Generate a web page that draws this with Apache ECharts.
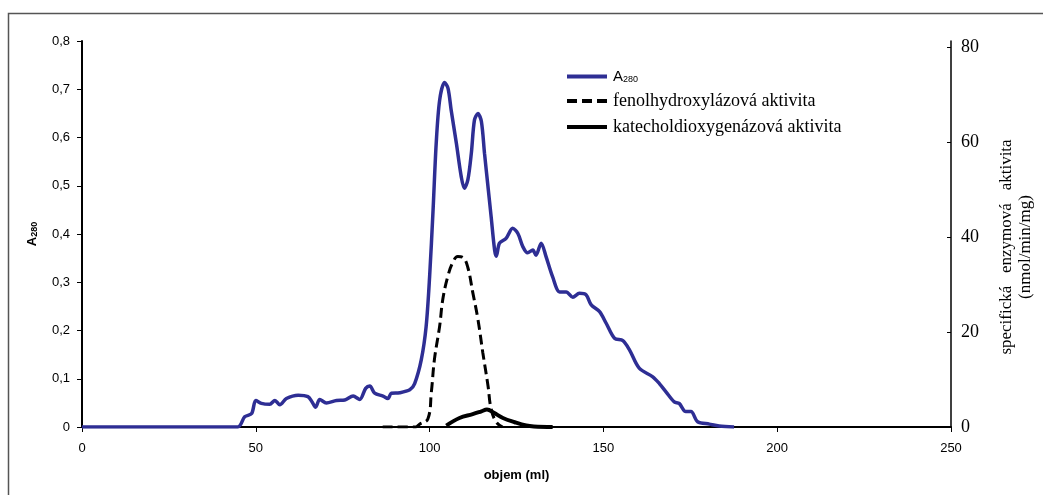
<!DOCTYPE html>
<html>
<head>
<meta charset="utf-8">
<script src="https://cdn.jsdelivr.net/npm/echarts@6/dist/echarts.min.js"></script>
<style>html,body{margin:0;padding:0;background:#fff}#c{width:1043px;height:495px}</style>
</head>
<body>
<div id="c"></div>
<script>
// A280 absorbance trace (x = volume ml, y = A280)
var a280X = [0,44.8,46.8,48.8,50,51.6,54,55.5,56.9,58.8,62.2,65,66.2,67.2,68.4,70.3,73.2,75.6,78,79.9,81.6,82.8,84.2,86.6,88,89,91.4,94.3,95.7,97.6,99,100,101,101.9,102.9,104.3,105.3,106.2,107.7,109.1,110,111,112,112.9,113.9,114.9,115.8,116.8,117.7,118.7,119.2,120.1,122,123.9,125.4,126.8,128.2,129.7,130.6,132.1,133.5,135.4,137.4,139.3,141.2,143.1,145,146.5,148.9,150.8,153.2,155.6,157.5,160.3,164.2,166.1,168,170.4,171.8,173.7,175.2,177.1,180.5,183.3,187.6];
var a280Y = [0,0,0.021,0.028,0.055,0.049,0.047,0.055,0.046,0.059,0.066,0.063,0.052,0.041,0.057,0.050,0.055,0.056,0.064,0.057,0.080,0.085,0.070,0.064,0.059,0.070,0.071,0.077,0.090,0.139,0.208,0.311,0.450,0.588,0.678,0.714,0.702,0.657,0.588,0.519,0.495,0.512,0.567,0.636,0.650,0.633,0.567,0.498,0.436,0.367,0.354,0.381,0.391,0.412,0.401,0.374,0.361,0.367,0.356,0.381,0.353,0.311,0.280,0.280,0.269,0.277,0.274,0.253,0.239,0.215,0.184,0.179,0.160,0.122,0.104,0.090,0.073,0.052,0.049,0.032,0.032,0.011,0.006,0.002,0];
// fenolhydroxylázová aktivita (nmol/min/mg)
var fenolX = [86.5,96,97.1,99.5,100.5,101.4,102.9,103.8,105.3,106.7,108.1,109.6,111,112.4,113.9,115.3,116.8,117.7,119.2,121];
var fenolY = [0,0,0.6,1.7,7.3,14.3,21.3,26.9,31.9,34.7,35.9,35.7,33.6,28.4,22.7,15.7,8.7,3.8,1.0,0];
// katecholdioxygenázová aktivita (nmol/min/mg)
var katX = [104.8,108.6,112.4,114.9,116.5,118.5,121.1,124.5,127.8,130,135.4];
var katY = [0.3,1.9,2.7,3.3,3.7,3.0,1.9,1.0,0.3,0.1,0];
// axis ticks
var xTicks = [0,50,100,150,200,250];
var leftTicks = [0,0.1,0.2,0.3,0.4,0.5,0.6,0.7,0.8];
var rightTicks = [0,20,40,60,80];
var seriesNames = ['A280','fenolhydroxylázová aktivita','katecholdioxygenázová aktivita'];

function zip(xs, ys){ var o=[]; for (var i=0;i<Math.min(xs.length,ys.length);i++) o.push([xs[i],ys[i]]); return o; }

var chart = echarts.init(document.getElementById('c'), null, {renderer:'canvas'});
var serif = '"Liberation Serif","Times New Roman",serif';
var sans = '"Liberation Sans",Arial,sans-serif';
chart.setOption({
  animation: false,
  backgroundColor: '#fff',
  graphic: [{
    type: 'rect', shape: {x: 8.5, y: 13.5, width: 1200, height: 700},
    style: {fill: 'none', stroke: '#555', lineWidth: 1.5}, silent: true, z: -10
  }],
  grid: {left: 82, right: 91, top: 41, bottom: 68, containLabel: false},
  legend: {
    orient: 'vertical', left: 560, top: 64, itemWidth: 40, itemHeight: 14, itemGap: 8,
    data: seriesNames,
    itemStyle: {opacity: 0},
    lineStyle: {width: 4},
    formatter: function(n){ return n === 'A280' ? '{a|A}{s|280}' : n; },
    textStyle: {
      fontFamily: serif, fontSize: 18, color: '#000', padding: [0,0,0,1],
      rich: {
        a: {fontFamily: sans, fontSize: 15, color: '#000'},
        s: {fontFamily: sans, fontSize: 9, color: '#000', verticalAlign: 'bottom', padding: [4,0,0,0]}
      }
    }
  },
  xAxis: {
    type: 'value', min: 0, max: 250, interval: 50,
    name: 'objem (ml)', nameLocation: 'middle', nameGap: 42,
    nameTextStyle: {fontFamily: sans, fontSize: 13, fontWeight: 'bold', color: '#000'},
    axisLine: {show: true, onZero: false, lineStyle: {color: '#000', width: 2}},
    axisTick: {show: true, length: 5, lineStyle: {color: '#000', width: 1}, customValues: xTicks},
    axisLabel: {fontFamily: sans, fontSize: 13, color: '#000', margin: 15, customValues: xTicks},
    splitLine: {show: false}
  },
  yAxis: [{
    type: 'value', min: 0, max: 0.8, interval: 0.1, position: 'left',
    name: '{a|A}{s|280}', nameLocation: 'middle', nameRotate: 90, nameGap: 43,
    nameTextStyle: {rich: {
      a: {fontFamily: sans, fontSize: 13, fontWeight: 'bold', color: '#000'},
      s: {fontFamily: sans, fontSize: 9, fontWeight: 'bold', color: '#000', verticalAlign: 'bottom', padding: [3,0,0,0]}
    }},
    axisLine: {show: true, onZero: false, lineStyle: {color: '#000', width: 2}},
    axisTick: {show: true, length: 5, lineStyle: {color: '#000', width: 1}, customValues: leftTicks},
    axisLabel: {fontFamily: sans, fontSize: 13, color: '#000', margin: 12, customValues: leftTicks,
      formatter: function(v){ return v === 0 ? '0' : v.toFixed(1).replace('.', ','); }},
    splitLine: {show: false}
  }, {
    type: 'value', min: 0, max: 81.3, position: 'right',
    name: 'specifická   enzymová   aktivita\n(nmol/min/mg)', nameLocation: 'middle', nameRotate: 90, nameGap: 46,
    nameTextStyle: {fontFamily: serif, fontSize: 17, color: '#000', lineHeight: 19, padding: [0,26,0,0]},
    axisLine: {show: true, onZero: false, lineStyle: {color: '#000', width: 1.5}},
    axisTick: {show: true, inside: true, length: 4, lineStyle: {color: '#000', width: 1}, customValues: rightTicks},
    axisLabel: {fontFamily: serif, fontSize: 18, color: '#000', margin: 10, customValues: rightTicks},
    splitLine: {show: false}
  }],
  series: [{
    name: seriesNames[0], type: 'line', yAxisIndex: 0, data: zip(a280X, a280Y),
    symbol: 'none', smooth: 0.3, lineStyle: {color: '#2E2E94', width: 3.5}, itemStyle: {color: '#2E2E94'}, z: 2
  }, {
    name: seriesNames[1], type: 'line', yAxisIndex: 1, data: zip(fenolX, fenolY),
    symbol: 'none', smooth: 0.4, lineStyle: {color: '#000', width: 3, type: [10,5]}, itemStyle: {color: '#000'}, z: 3
  }, {
    name: seriesNames[2], type: 'line', yAxisIndex: 1, data: zip(katX, katY),
    symbol: 'none', smooth: 0.4, lineStyle: {color: '#000', width: 4}, itemStyle: {color: '#000'}, z: 4
  }]
});
</script>
</body>
</html>
